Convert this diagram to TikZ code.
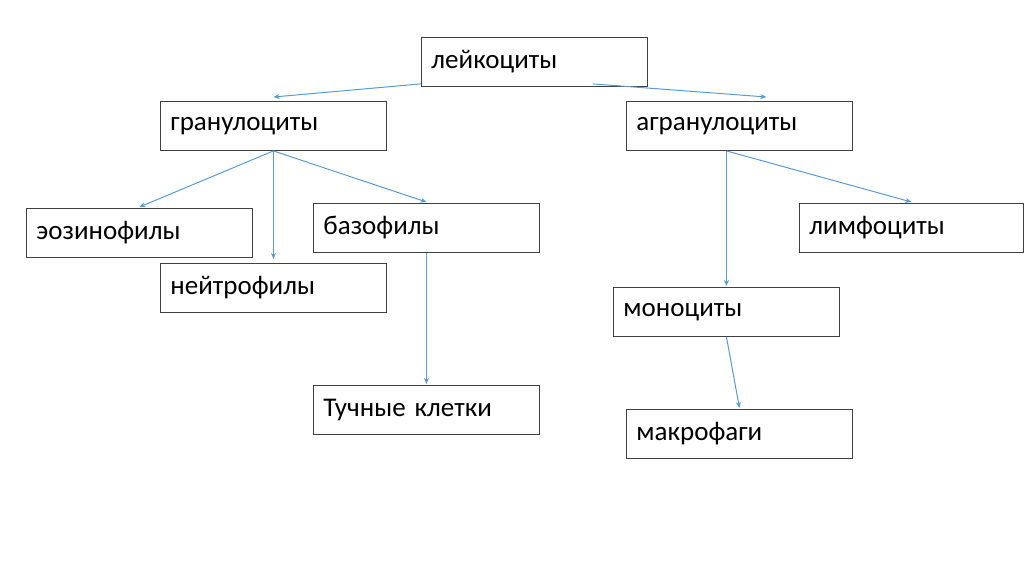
\documentclass[tikz,border=0pt]{standalone}
\usepackage{fontspec}
\setmainfont{Carlito}
\usetikzlibrary{calc,arrows.meta}
\definecolor{arr}{HTML}{5B9BD5}
\definecolor{edge}{HTML}{404040}
\begin{document}
\begin{tikzpicture}[x=1pt,y=1pt,
  box/.style={draw=edge,line width=0.9pt,anchor=north west,minimum width=226pt,minimum height=49pt,
    text width=206pt,inner xsep=10pt,align=left,font=\fontsize{27}{30}\selectfont},
  link/.style={draw=arr,line width=1pt,-{Stealth[length=6pt,width=5pt]}}]
\useasboundingbox (0,0) rectangle (1024,-574);
\node[box] (lek) at (421,-37) {лейкоциты};
\node[box] (gran) at (160,-101) {гранулоциты};
\node[box] (agr) at (626,-101) {агранулоциты};
\node[box] (eoz) at (26,-208) {эозинофилы};
\node[box] (neu) at (160,-263) {нейтрофилы};
\node[box] (baz) at (313,-203) {базофилы};
\node[box,minimum width=224pt,text width=204pt] (lim) at (799,-203) {лимфоциты};
\node[box] (mon) at (613,-287) {моноциты};
\node[box] (tuc) at (313,-385) {Тучные клетки};
\node[box] (mak) at (626,-409) {макрофаги};
\draw[link] ($(lek.south west)+(0,3)$) -- ($(gran.north)+(0,4)$);
\draw[link] ($(lek.south east)+(-55,3)$) -- ($(agr.north)+(27,4)$);
\draw[link] (gran.south) -- ($(eoz.north)+(0,1)$);
\draw[link] (gran.south) -- ($(neu.north)+(0,4)$);
\draw[link] (gran.south) -- ($(baz.north)+(0,1)$);
\draw[link] (baz.south) -- ($(tuc.north)+(0,1)$);
\draw[link] ($(agr.south)+(-13,0)$) -- ($(mon.north)+(0,1)$);
\draw[link] ($(agr.south)+(-13,0)$) -- ($(lim.north)+(0,1)$);
\draw[link] ($(mon.south)+(0,0)$) -- ($(mak.north)+(0,1)$);
\end{tikzpicture}
\end{document}
